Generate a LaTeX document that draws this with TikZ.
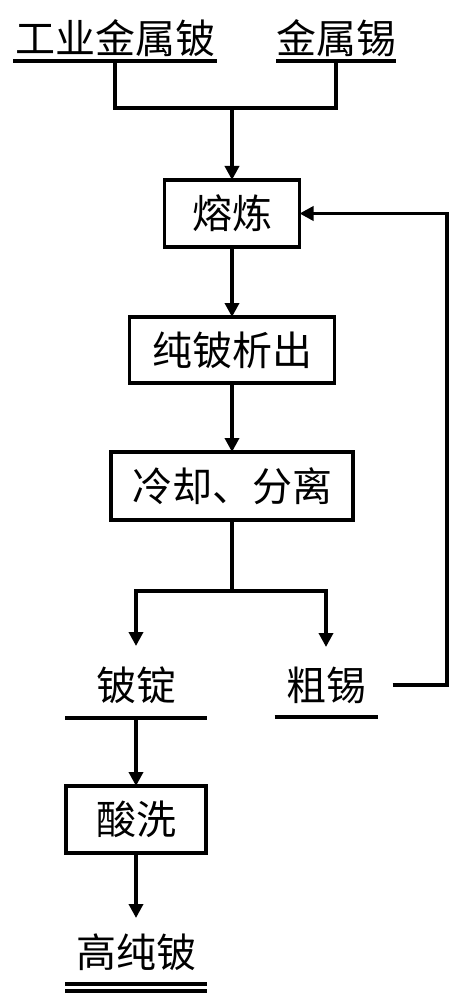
\documentclass[tikz,border=0pt]{standalone}
\usepackage{fontspec}
\setmainfont{Noto Sans CJK SC}
\usetikzlibrary{arrows.meta}
\begin{document}
\begin{tikzpicture}[x=0.5pt,y=-0.5pt,
  line width=1.8pt,
  txt/.style={inner sep=0pt,outer sep=0pt,font=\fontsize{20}{24}\selectfont},
  box/.style={txt,draw,line width=1.9pt,outer sep=0pt},
  arr/.style={-{Triangle[length=7pt,width=7pt]}}]
\useasboundingbox (0,0) rectangle (459,1000);
% inputs
\node[txt,minimum width=102pt,minimum height=23pt] (in1) at (115,38) {工业金属铍};
\node[txt,minimum width=59pt,minimum height=23pt] (in2) at (336,38) {金属锡};
\draw (in1.south west) -- (in1.south east);
\draw (in2.south west) -- (in2.south east);
% boxes
\node[box,minimum width=67.5pt,minimum height=33.5pt] (smelt) at (232,213.5) {熔炼};
\node[box,minimum width=102.5pt,minimum height=33pt] (precip) at (232,350) {纯铍析出};
\node[box,minimum width=121pt,minimum height=34pt] (cool) at (232,486) {冷却、分离};
% outputs
\node[txt,minimum width=71pt,minimum height=33pt] (out1) at (136,685) {铍锭};
\node[txt,minimum width=51.5pt,minimum height=32pt] (out2) at (326,685) {粗锡};
\draw (out1.south west) -- (out1.south east);
\draw (out2.south west) -- (out2.south east);
\node[box,minimum width=70pt,minimum height=33.5pt] (pickle) at (136,819.5) {酸洗};
\node[txt,minimum width=71pt,minimum height=32pt] (final) at (136,952) {高纯铍};
\draw (final.south west) -- (final.south east);
\draw ([yshift=-3.5pt]final.south west) -- ([yshift=-3.5pt]final.south east);
% connectors
\coordinate (j1) at (232,108);
\coordinate (j2) at (232,591);
\coordinate (fb) at (447,500);
\draw (in1.south) |- (j1) -| (in2.south);
\draw[arr] (j1) -- (smelt.north);
\draw[arr] (smelt) -- (precip);
\draw[arr] (precip) -- (cool);
\draw (cool.south) -- (j2);
\draw[arr,shorten >=3pt] (j2) -| (out1.north);
\draw[arr,shorten >=3pt] (j2) -| (out2.north);
\draw[arr] (out1.south) -- (pickle.north);
\draw[arr,shorten >=1pt] (pickle.south) -- (final.north);
\draw[arr,shorten <=7.5pt] (out2.east) -| (fb) |- (smelt.east);
\end{tikzpicture}
\end{document}
